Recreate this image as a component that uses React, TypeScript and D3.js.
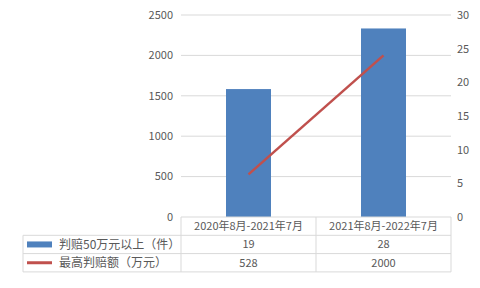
import React from "react";
import * as d3 from "d3";

const categories = ["2020年8月-2021年7月", "2021年8月-2022年7月"];
const barSeriesName = "判赔50万元以上（件）";
const lineSeriesName = "最高判赔额（万元）";
const barValues = [19, 28];
const lineValues = [528, 2000];
const leftTicks = [0, 500, 1000, 1500, 2000, 2500];
const rightTicks = [0, 5, 10, 15, 20, 25, 30];

const W = 480;
const H = 288;
const plotLeft = 181;
const plotRight = 451;
const plotTop = 15;
const plotBottom = 217;
const rowH = 18.3;
const legendLeft = 23;

const FONT = "'Noto Sans CJK SC', 'Microsoft YaHei', sans-serif";
const BAR = "#4f81bd";
const LINE = "#c0504d";
const GRID = "#d9d9d9";
const TEXT = "#595959";

export default function App() {
  const x = d3.scaleBand<string>().domain(categories).range([plotLeft, plotRight]);
  const yL = d3.scaleLinear().domain([0, 2500]).range([plotBottom, plotTop]);
  const yR = d3.scaleLinear().domain([0, 30]).range([plotBottom, plotTop]);
  const barW = x.bandwidth() / 3;
  const line = d3
    .line<number>()
    .x((_, i) => x(categories[i])! + x.bandwidth() / 2)
    .y((d) => yL(d));

  const rows = [
    { name: barSeriesName, values: barValues, kind: "bar" },
    { name: lineSeriesName, values: lineValues, kind: "line" },
  ];

  return (
    <svg
      width={W}
      height={H}
      style={{ position: "absolute", left: 0, top: 0, fontFamily: FONT }}
    >
      <rect width={W} height={H} fill="#fff" />
      {leftTicks.map((t) => (
        <g key={"l" + t}>
          {t !== 0 && (
            <line x1={plotLeft} x2={plotRight} y1={yL(t)} y2={yL(t)} stroke={GRID} strokeWidth={1} />
          )}
          <text x={plotLeft - 8} y={yL(t)} dy="0.35em" textAnchor="end" fontSize={11} fill={TEXT}>
            {t}
          </text>
        </g>
      ))}
      {rightTicks.map((t) => (
        <text key={"r" + t} x={457} y={yR(t)} dy="0.35em" textAnchor="start" fontSize={11} fill={TEXT}>
          {t}
        </text>
      ))}
      {barValues.map((v, i) => (
        <rect
          key={"b" + i}
          x={x(categories[i])! + barW}
          y={yR(v)}
          width={barW}
          height={plotBottom - yR(v)}
          fill={BAR}
        />
      ))}
      <path d={line(lineValues) || ""} fill="none" stroke={LINE} strokeWidth={2.5} />

      {/* data table */}
      <g stroke={GRID} strokeWidth={1} fill="none">
        <line x1={plotLeft} x2={plotRight} y1={plotBottom} y2={plotBottom} />
        <line x1={legendLeft} x2={plotRight} y1={plotBottom + rowH} y2={plotBottom + rowH} />
        <line x1={legendLeft} x2={plotRight} y1={plotBottom + 2 * rowH} y2={plotBottom + 2 * rowH} />
        <line x1={legendLeft} x2={plotRight} y1={plotBottom + 3 * rowH} y2={plotBottom + 3 * rowH} />
        <line x1={legendLeft} x2={legendLeft} y1={plotBottom + rowH} y2={plotBottom + 3 * rowH} />
        <line x1={plotLeft} x2={plotLeft} y1={plotBottom} y2={plotBottom + 3 * rowH} />
        {categories.map((c) => (
          <line key={"v" + c} x1={x(c)! + x.bandwidth()} x2={x(c)! + x.bandwidth()} y1={plotBottom} y2={plotBottom + 3 * rowH} />
        ))}
      </g>
      {categories.map((c) => (
        <text
          key={"h" + c}
          x={x(c)! + x.bandwidth() / 2}
          y={plotBottom + rowH / 2}
          dy="0.35em"
          textAnchor="middle"
          fontSize={11}
          fill={TEXT}
        >
          {c}
        </text>
      ))}
      {rows.map((r, ri) => {
        const cy = plotBottom + rowH * (ri + 1) + rowH / 2;
        return (
          <g key={"row" + ri}>
            {r.kind === "bar" ? (
              <rect x={27} y={cy - 3} width={25} height={6} fill={BAR} />
            ) : (
              <line x1={27} x2={52} y1={cy} y2={cy} stroke={LINE} strokeWidth={3} />
            )}
            <text x={59} y={cy} dy="0.35em" fontSize={12} fill={TEXT}>
              {r.name}
            </text>
            {r.values.map((v, i) => (
              <text
                key={i}
                x={x(categories[i])! + x.bandwidth() / 2}
                y={cy}
                dy="0.35em"
                textAnchor="middle"
                fontSize={11}
                fill={TEXT}
              >
                {v}
              </text>
            ))}
          </g>
        );
      })}
    </svg>
  );
}
